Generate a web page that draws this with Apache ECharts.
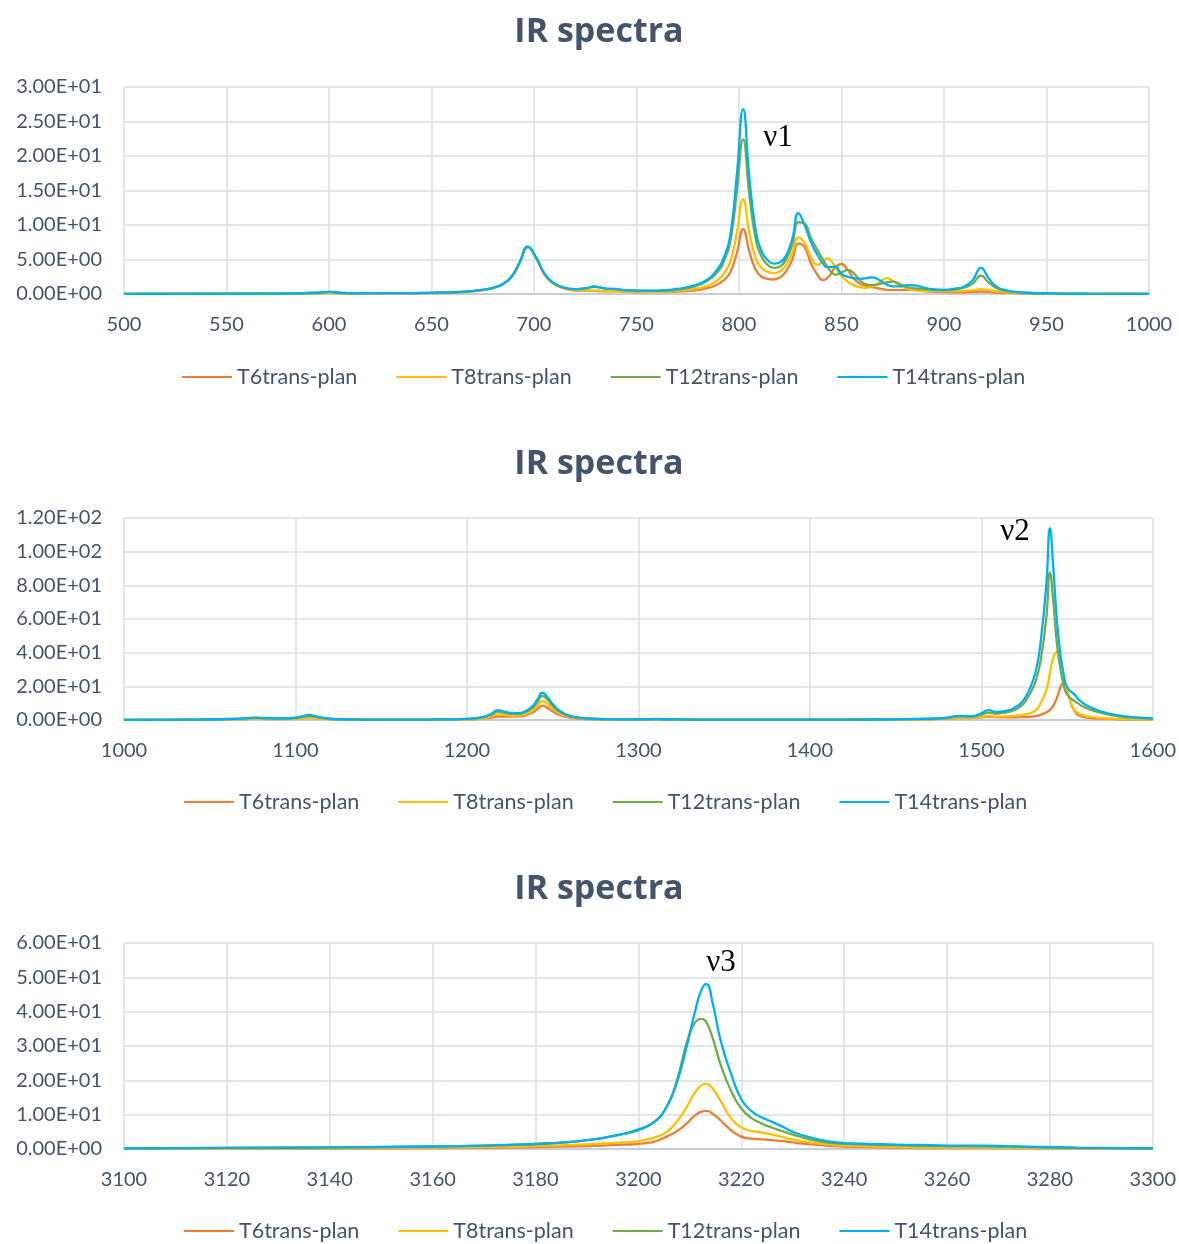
<!DOCTYPE html>
<html>
<head>
<meta charset="utf-8">
<script src="https://cdn.jsdelivr.net/npm/echarts@6/dist/echarts.min.js"></script>
<style>
html,body{margin:0;padding:0;background:#fff;}
#c{width:1179px;height:1244px;}
</style>
</head>
<body>
<div id="c"></div>
<script>
var seriesNames = ['T6trans-plan', 'T8trans-plan', 'T12trans-plan', 'T14trans-plan'];
var seriesColors = ['#ED7D31', '#FFC000', '#70AD47', '#00B0F0'];

// ---- Panel 1 (500-1000) ----
var x1 = [500,560,585,595,600,605,612,620,640,660,672,680,685,689,693,697,701,705,709,714,720,726,729,733,736,739,743,750,760,770,778,784,789,793,796,799,802,805,808,811,814,817,820,823,826,829,832,835,838,841,843,845,847,850,853,856,859,862,865,868,872,875,878,881,884,888,893,900,906,910,914,918,922,926,931,938,950,970,1000];
var p1_T6  = [0.01,0.03,0.06,0.1,0.15,0.1,0.05,0.07,0.1,0.22,0.45,0.85,1.45,2.45,4.5,6.8,5.2,2.9,1.6,0.9,0.5,0.45,0.45,0.4,0.38,0.4,0.33,0.28,0.26,0.35,0.5,0.8,1.3,2.1,3.3,6.0,9.4,6.2,3.6,2.5,2.2,2.1,2.4,3.3,5.0,7.3,6.8,4.5,2.9,2.0,2.3,3.0,3.9,4.35,3.5,2.2,1.5,1.2,1.0,0.8,0.6,0.55,0.55,0.6,0.6,0.5,0.35,0.28,0.25,0.25,0.3,0.35,0.3,0.2,0.15,0.1,0.05,0.02,0.01];
var p1_T8  = [0.01,0.03,0.06,0.1,0.18,0.12,0.06,0.08,0.1,0.22,0.45,0.85,1.45,2.45,4.5,6.8,5.2,2.9,1.6,0.9,0.55,0.5,0.5,0.45,0.42,0.45,0.38,0.33,0.32,0.45,0.7,1.15,1.9,3.1,4.9,9.0,13.7,9.0,5.3,3.8,3.2,3.0,3.3,4.2,6.0,8.2,7.4,5.4,4.25,4.7,5.2,4.8,3.8,2.6,1.8,1.25,1.0,0.9,1.1,1.6,2.3,1.9,1.3,0.9,0.65,0.5,0.45,0.4,0.4,0.45,0.55,0.7,0.55,0.38,0.25,0.15,0.06,0.02,0.01];
var p1_T12 = [0.02,0.05,0.1,0.18,0.3,0.2,0.1,0.12,0.12,0.25,0.5,0.9,1.5,2.5,4.6,6.8,5.3,3.0,1.7,1.0,0.7,0.9,1.1,0.9,0.75,0.75,0.6,0.5,0.45,0.65,1.05,1.8,3.0,5.0,8.0,15.0,22.4,14.5,8.2,5.4,4.2,3.8,4.0,5.0,7.2,10.4,10.2,8.2,6.5,5.0,4.0,3.2,2.8,3.1,3.5,3.0,2.0,1.4,1.3,1.4,1.7,1.8,1.5,1.1,0.9,0.75,0.65,0.55,0.7,0.95,1.5,2.65,1.6,0.8,0.4,0.2,0.08,0.03,0.02];
var p1_T14 = [0.02,0.05,0.1,0.2,0.32,0.2,0.1,0.12,0.12,0.25,0.5,0.9,1.5,2.5,4.6,6.9,5.3,3.0,1.7,1.0,0.7,0.85,1.05,0.9,0.75,0.75,0.6,0.5,0.5,0.75,1.2,2.0,3.4,5.6,9.0,17.5,26.8,17.0,9.5,6.2,4.9,4.4,4.6,5.6,8.0,11.7,10.0,7.6,5.8,4.4,3.9,3.9,3.95,2.9,2.5,2.3,2.2,2.3,2.4,2.1,1.4,1.1,1.1,1.25,1.3,1.1,0.75,0.6,0.8,1.1,2.0,3.8,2.2,1.0,0.5,0.25,0.1,0.04,0.02];

// ---- Panel 2 (1000-1600) ----
var x2 = [1000,1040,1060,1070,1077,1084,1092,1100,1104,1108,1112,1118,1130,1150,1180,1200,1208,1214,1218,1222,1226,1230,1234,1238,1241,1244,1247,1250,1254,1260,1270,1290,1305,1310,1315,1340,1400,1440,1470,1480,1487,1494,1500,1504,1509,1514,1519,1524,1528,1532,1535,1538,1540,1542,1544,1546,1547.5,1549,1551,1554,1558,1563,1570,1580,1590,1600];
var p2_T6  = [0.03,0.1,0.3,0.5,0.8,0.6,0.5,0.7,1.0,1.3,1.0,0.5,0.25,0.12,0.15,0.35,0.7,1.3,2.0,2.0,2.0,2.1,2.8,4.3,6.4,8.5,7.2,5.2,3.0,1.4,0.55,0.25,0.25,0.35,0.25,0.12,0.12,0.15,0.4,0.7,1.1,1.2,1.6,2.0,1.7,1.6,1.6,1.7,1.9,2.4,3.2,4.6,6.0,8.5,13.0,19.0,21.8,18.5,13.9,6.0,2.3,1.3,0.8,0.45,0.3,0.2];
var p2_T8  = [0.03,0.1,0.35,0.6,0.9,0.7,0.6,0.8,1.1,1.4,1.1,0.6,0.3,0.15,0.2,0.45,0.9,2.0,3.4,3.0,2.6,2.7,3.6,5.5,8.3,11.3,9.5,6.8,4.0,1.8,0.7,0.3,0.3,0.4,0.3,0.15,0.15,0.2,0.5,0.8,1.3,1.4,1.9,2.4,2.0,2.1,2.4,3.0,4.0,6.0,11.0,18.0,28.0,37.0,40.4,36.0,29.7,22.0,14.0,6.5,3.2,2.0,1.2,0.7,0.4,0.3];
var p2_T12 = [0.05,0.2,0.55,0.9,1.3,1.0,0.9,1.2,1.8,2.4,1.8,0.9,0.4,0.2,0.3,0.65,1.3,3.0,5.0,4.3,3.6,3.6,4.6,7.0,10.5,14.3,12.0,8.5,5.0,2.3,0.9,0.4,0.4,0.55,0.4,0.2,0.2,0.3,0.7,1.2,2.2,2.0,3.2,4.4,3.8,4.4,5.8,9.0,15.0,24.0,38.0,62.0,87.5,70.0,46.0,31.0,23.0,17.0,14.0,11.5,8.8,6.3,4.2,2.2,1.3,0.8];
var p2_T14 = [0.05,0.2,0.6,1.0,1.4,1.1,1.0,1.4,2.2,3.0,2.2,1.0,0.4,0.2,0.3,0.7,1.5,3.5,5.9,5.0,4.2,4.1,5.2,8.0,12.0,16.2,13.5,9.5,5.5,2.5,1.0,0.4,0.45,0.6,0.45,0.2,0.2,0.3,0.8,1.4,2.4,2.2,4.0,5.9,4.8,5.4,7.0,11.0,18.0,30.0,50.0,82.0,113.9,90.0,60.0,40.0,30.0,22.0,18.0,15.5,11.0,7.9,5.0,2.7,1.5,1.0];

// ---- Panel 3 (3100-3300) ----
var x3 = [3100,3120,3140,3155,3165,3175,3182,3188,3193,3197,3200,3203,3205.5,3207.5,3209.5,3211,3212.3,3213.2,3214.5,3216,3218,3220,3222,3224,3226,3228,3230,3233,3237,3242,3250,3260,3268,3275,3285,3300];
var p3_T6  = [0.05,0.1,0.15,0.22,0.3,0.45,0.6,0.8,1.0,1.25,1.5,2.1,3.6,5.2,7.6,9.8,10.9,11.08,10.2,8.3,5.5,3.6,3.0,2.8,2.6,2.3,1.9,1.4,0.95,0.6,0.4,0.25,0.25,0.2,0.12,0.05];
var p3_T8  = [0.1,0.15,0.25,0.35,0.5,0.7,0.95,1.25,1.6,1.9,2.3,3.3,5.0,8.0,12.5,16.5,18.6,18.95,17.5,14.0,9.0,6.3,5.3,4.8,4.2,3.5,2.8,2.0,1.3,0.9,0.6,0.4,0.4,0.3,0.2,0.1];
var p3_T12 = [0.2,0.3,0.45,0.65,0.85,1.2,1.6,2.2,3.2,4.3,5.5,7.8,12.3,20.0,31.5,36.8,37.9,37.0,32.0,24.5,17.0,11.8,9.0,7.4,6.2,5.2,4.2,2.9,1.8,1.4,1.1,0.85,0.8,0.6,0.35,0.2];
var p3_T14 = [0.2,0.3,0.45,0.65,0.85,1.2,1.6,2.2,3.2,4.4,5.7,7.8,12.3,19.5,30.5,40.0,46.5,48.0,42.0,31.5,22.0,14.5,11.0,9.2,7.9,6.5,5.0,3.5,2.2,1.6,1.3,1.0,0.95,0.7,0.4,0.2];

var panelTitles = ['IR spectra', 'IR spectra', 'IR spectra'];
var bandLabels = ['ν1', 'ν2', 'ν3'];

function sci(v) {
  if (v === 0) return '0.00E+00';
  var e = Math.floor(Math.log10(Math.abs(v)));
  var m = v / Math.pow(10, e);
  if (Math.abs(m) >= 9.995) { m /= 10; e += 1; }
  var s = e < 0 ? '-' : '+';
  var ae = Math.abs(e);
  return m.toFixed(2) + 'E' + s + (ae < 10 ? '0' : '') + ae;
}
function plain(v) { return String(v); }
function pairs(xs, ys) { return xs.map(function (x, i) { return [x, ys[i]]; }); }

var panels = [
  { x: x1, ys: [p1_T6, p1_T8, p1_T12, p1_T14], xmin: 500, xmax: 1000, xint: 50, ymax: 30, yint: 5,
    top: 87, height: 207, right: 30, titleTop: 15, legendTop: 366, legendLeft: 182 },
  { x: x2, ys: [p2_T6, p2_T8, p2_T12, p2_T14], xmin: 1000, xmax: 1600, xint: 100, ymax: 120, yint: 20,
    top: 518, height: 202, right: 26, titleTop: 447, legendTop: 791, legendLeft: 184 },
  { x: x3, ys: [p3_T6, p3_T8, p3_T12, p3_T14], xmin: 3100, xmax: 3300, xint: 20, ymax: 60, yint: 10,
    top: 943, height: 206, right: 26, titleTop: 872, legendTop: 1220, legendLeft: 184 }
];

var labelColor = '#44546A';
var font = 'Lato, "Open Sans", sans-serif';
var option = { animation: false, backgroundColor: '#ffffff', title: [], legend: [], grid: [], xAxis: [], yAxis: [], series: [], graphic: [] };

panels.forEach(function (p, k) {
  option.title.push({ text: panelTitles[k], left: 599, textAlign: 'center', top: p.titleTop, padding: 0,
    textStyle: { fontFamily: '"Open Sans", sans-serif', fontWeight: 'bold', fontSize: 34, color: labelColor } });
  option.legend.push({ data: seriesNames, left: p.legendLeft, top: p.legendTop, padding: 0, itemGap: 39,
    itemWidth: 50, itemHeight: 2, icon: 'rect',
    textStyle: { fontFamily: font, fontSize: 21.5, color: labelColor } });
  option.grid.push({ left: 124, right: p.right, top: p.top, height: p.height });
  option.xAxis.push({ type: 'value', gridIndex: k, min: p.xmin, max: p.xmax, interval: p.xint,
    axisLine: { show: true, onZero: false, lineStyle: { color: '#BFC6D1', width: 1.5 } },
    axisTick: { show: false },
    axisLabel: { margin: 21, fontFamily: font, fontSize: 20, color: labelColor, formatter: plain },
    splitLine: { show: true, lineStyle: { color: '#D9DEE5', width: 1.5 } } });
  option.yAxis.push({ type: 'value', gridIndex: k, min: 0, max: p.ymax, interval: p.yint,
    axisLine: { show: false }, axisTick: { show: false },
    axisLabel: { margin: 22, fontFamily: font, fontSize: 20, color: labelColor, formatter: sci },
    splitLine: { show: true, lineStyle: { color: '#D9DEE5', width: 1.5 } } });
  p.ys.forEach(function (ys, j) {
    option.series.push({ name: seriesNames[j], type: 'line', xAxisIndex: k, yAxisIndex: k,
      data: pairs(p.x, ys), showSymbol: false, smooth: 0.5,
      lineStyle: { width: 2.3, color: seriesColors[j] }, itemStyle: { color: seriesColors[j] },
      z: 2 + j });
  });
});

var bandPos = [[778, 138], [1015, 532], [721, 963]];
bandPos.forEach(function (b, k) {
  option.graphic.push({ type: 'text', x: b[0], y: b[1], z: 100,
    style: { text: bandLabels[k], fill: '#000', font: '31px "Liberation Serif", "DejaVu Serif", serif',
      textAlign: 'center', textVerticalAlign: 'middle' } });
});

var chart = echarts.init(document.getElementById('c'), null, { renderer: 'canvas' });
chart.setOption(option);
</script>
</body>
</html>
